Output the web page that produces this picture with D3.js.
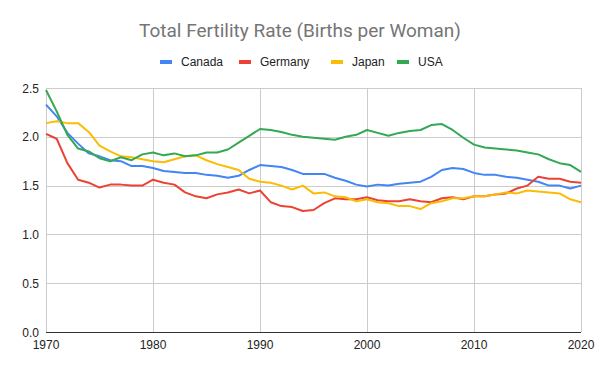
<!DOCTYPE html>
<html><head><meta charset="utf-8">
<script src="https://cdn.jsdelivr.net/npm/d3@7"></script>
<style>body{margin:0;background:#fff}svg{display:block}</style>
</head><body>
<script>
const years = d3.range(1970, 2021);
const canada = [2.33,2.21,2.04,1.93,1.83,1.80,1.76,1.75,1.70,1.70,1.68,1.65,1.64,1.63,1.63,1.61,1.60,1.58,1.60,1.66,
  1.71,1.70,1.69,1.66,1.62,1.62,1.62,1.58,1.55,1.51,1.49,1.51,1.50,1.52,1.53,1.54,1.59,1.66,1.68,1.67,
  1.63,1.61,1.61,1.59,1.58,1.56,1.54,1.50,1.50,1.47,1.50];
const germany = [2.03,1.98,1.73,1.56,1.53,1.48,1.51,1.51,1.50,1.50,1.56,1.53,1.51,1.43,1.39,1.37,1.41,1.43,1.46,1.42,
  1.45,1.33,1.29,1.28,1.24,1.25,1.32,1.37,1.36,1.36,1.38,1.35,1.34,1.34,1.36,1.34,1.33,1.37,1.38,1.36,
  1.39,1.39,1.41,1.42,1.47,1.50,1.59,1.57,1.57,1.54,1.53];
const japan = [2.14,2.16,2.14,2.14,2.05,1.91,1.85,1.80,1.79,1.77,1.75,1.74,1.77,1.80,1.81,1.76,1.72,1.69,1.66,1.57,
  1.54,1.53,1.50,1.46,1.50,1.42,1.43,1.39,1.38,1.34,1.36,1.33,1.32,1.29,1.29,1.26,1.32,1.34,1.37,1.37,
  1.39,1.39,1.41,1.43,1.42,1.45,1.44,1.43,1.42,1.36,1.33];
const usa = [2.48,2.26,2.02,1.88,1.85,1.78,1.75,1.79,1.76,1.82,1.84,1.81,1.83,1.80,1.81,1.84,1.84,1.87,1.94,2.01,
  2.08,2.07,2.05,2.02,2.00,1.99,1.98,1.97,2.00,2.02,2.07,2.04,2.01,2.04,2.06,2.07,2.12,2.13,2.07,1.99,
  1.92,1.89,1.88,1.87,1.86,1.84,1.82,1.77,1.73,1.71,1.64];
const seriesNames = ["Canada","Germany","Japan","USA"];
const seriesColors = ["#4285F4","#EA4335","#FBBC04","#34A853"];
const xTicks = [1970,1980,1990,2000,2010,2020];
const yTicks = [0,0.5,1.0,1.5,2.0,2.5];
const titleText = "Total Fertility Rate (Births per Woman)";

const W = 600, H = 371;
const m = {left:46, right:19, top:88, bottom:39};
const svg = d3.select("body").append("svg").attr("width",W).attr("height",H);
const x = d3.scaleLinear().domain([1970,2020]).range([m.left, W-m.right]);
const y = d3.scaleLinear().domain([0,2.5]).range([H-m.bottom, m.top]);
const font = "Roboto, Arial, sans-serif";
const axisFont = "Arial, 'Liberation Sans', sans-serif";

// gridlines
svg.append("g").selectAll("line.h").data(yTicks.filter(d=>d>0)).join("line")
  .attr("x1",m.left).attr("x2",W-m.right)
  .attr("y1",d=>Math.round(y(d))+0.5).attr("y2",d=>Math.round(y(d))+0.5)
  .attr("stroke","#cccccc").attr("stroke-width",1);
svg.append("g").selectAll("line.v").data(xTicks).join("line")
  .attr("x1",d=>Math.round(x(d))+0.5).attr("x2",d=>Math.round(x(d))+0.5)
  .attr("y1",m.top).attr("y2",H-m.bottom)
  .attr("stroke","#cccccc").attr("stroke-width",1);

// y labels
svg.append("g").selectAll("text").data(yTicks).join("text")
  .attr("x",m.left-7).attr("y",d=>y(d)+4.5)
  .attr("text-anchor","end").attr("font-family",axisFont).attr("font-size",12).attr("fill","#222")
  .text(d=>d3.format(".1f")(d));
// x labels
svg.append("g").selectAll("text").data(xTicks).join("text")
  .attr("x",d=>x(d)).attr("y",H-m.bottom+16.5)
  .attr("text-anchor","middle").attr("font-family",axisFont).attr("font-size",12).attr("fill","#222")
  .text(d=>d);

// lines
const allSeries = [canada, germany, japan, usa];
const line = d3.line().x((d,i)=>x(years[i])).y(d=>y(d));
allSeries.forEach((s,k)=>{
  svg.append("path").datum(s).attr("d",line).attr("fill","none")
    .attr("stroke",seriesColors[k]).attr("stroke-width",2).attr("stroke-linejoin","round");
});

// baseline
svg.append("line").attr("x1",m.left).attr("x2",W-m.right)
  .attr("y1",Math.round(y(0))+0.5).attr("y2",Math.round(y(0))+0.5)
  .attr("stroke","#333").attr("stroke-width",1);

// title
svg.append("text").attr("x",300).attr("y",37).attr("text-anchor","middle")
  .attr("font-family",font).attr("font-size",19).attr("fill","#757575").text(titleText);

// legend
const legendX = [160,239,331,397];
const lg = svg.append("g");
seriesNames.forEach((n,k)=>{
  lg.append("rect").attr("x",legendX[k]).attr("y",60).attr("width",12).attr("height",4).attr("fill",seriesColors[k]);
  lg.append("text").attr("x",legendX[k]+21).attr("y",66).attr("font-family",axisFont).attr("font-size",12)
    .attr("fill","#222").text(n);
});
</script>
</body></html>
